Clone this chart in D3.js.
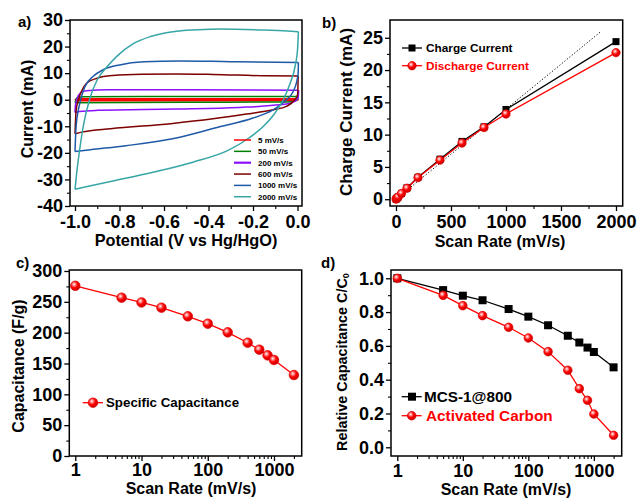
<!DOCTYPE html>
<html><head><meta charset="utf-8">
<script src="https://cdn.jsdelivr.net/npm/d3@7"></script>
<style>
body{margin:0;background:#fff;}
svg text{font-family:"Liberation Sans",Arial,sans-serif;font-weight:bold;}
</style></head><body>
<svg id="c" width="639" height="498"></svg>
<script>
// ---------- DATA ----------
// Panel a: CV loops [potential V, current mA]; anodic (up) and cathodic (down) sweeps
const cvLabels = ["5 mV/s","50 mV/s","200 mV/s","600 mV/s","1000 mV/s","2000 mV/s"];
const cvColors = ["#ff0000","#008000","#8a10ff","#7d0000","#1f5aa8","#38a6a6"];
const cv5Up = [[-1.0,-0.25],[-0.995,0.05],[-0.98,0.2],[-0.5,0.22],[0.002,0.25]];
const cv5Down = [[0.002,0.25],[0.001,0.0],[-0.02,-0.2],[-0.5,-0.25],[-1.0,-0.25]];
const cv50Up = [[-1.0,-1.1],[-0.996,0.0],[-0.986,0.9],[-0.96,1.1],[-0.5,1.2],[0.003,1.25]];
const cv50Down = [[0.003,1.25],[0.002,0.5],[-0.01,-0.5],[-0.05,-0.85],[-0.5,-0.95],[-1.0,-1.1]];
const cv200Up = [[-1.0,-4.8],[-0.998,-2.0],[-0.99,0.5],[-0.975,2.6],[-0.95,3.4],[-0.85,3.75],[-0.5,3.75],[-0.2,3.7],[0.005,3.6]];
const cv200Down = [[0.005,3.6],[0.004,1.5],[0.0,0.2],[-0.03,-1.2],[-0.12,-2.2],[-0.26,-2.9],[-0.55,-3.5],[-0.9,-4.0],[-0.98,-4.4],[-1.0,-4.8]];
const cv600Up = [[-1.0,-12.8],[-0.995,-4.0],[-0.985,0.0],[-0.972,3.0],[-0.948,6.2],[-0.9,8.1],[-0.83,9.1],[-0.7,9.6],[-0.55,9.7],[-0.38,9.5],[-0.15,9.0],[0.003,8.9]];
const cv600Down = [[0.003,8.9],[0.002,5.0],[0.0,1.8],[-0.012,0.0],[-0.05,-2.5],[-0.11,-3.8],[-0.23,-5.4],[-0.38,-7.2],[-0.57,-9.0],[-0.84,-10.9],[-0.97,-12.2],[-1.0,-12.8]];
const cv1000Up = [[-1.0,-19.5],[-0.995,-10.0],[-0.978,-1.2],[-0.955,5.0],[-0.918,8.8],[-0.873,11.3],[-0.8,13.1],[-0.69,14.3],[-0.53,14.6],[-0.3,14.3],[0.004,14.0]];
const cv1000Down = [[0.004,14.0],[0.003,10.0],[-0.003,7.0],[-0.02,3.0],[-0.05,0.0],[-0.11,-3.8],[-0.2,-6.9],[-0.35,-10.2],[-0.55,-14.5],[-0.77,-17.3],[-0.93,-18.8],[-1.0,-19.5]];
const cv2000Up = [[-1.0,-33.7],[-0.993,-28.0],[-0.985,-22.5],[-0.963,-10.0],[-0.935,0.0],[-0.9,7.5],[-0.86,12.0],[-0.81,16.5],[-0.74,21.0],[-0.66,23.8],[-0.56,25.6],[-0.45,26.3],[-0.35,26.6],[-0.15,26.2],[0.004,25.6]];
const cv2000Down = [[0.004,25.6],[0.0,18.7],[-0.011,12.5],[-0.033,6.2],[-0.064,0.0],[-0.101,-5.0],[-0.153,-10.0],[-0.22,-14.5],[-0.31,-19.0],[-0.47,-23.5],[-0.65,-27.3],[-0.83,-30.6],[-1.0,-33.7]];
const cvUp = [cv5Up, cv50Up, cv200Up, cv600Up, cv1000Up, cv2000Up];
const cvDown = [cv5Down, cv50Down, cv200Down, cv600Down, cv1000Down, cv2000Down];

// Panel b
const rateB = [1,5,10,20,50,100,200,400,600,800,1000,2000];
const chargeCurrent = [0.02,0.09,0.18,0.35,0.9,1.75,3.4,6.2,8.95,11.2,13.9,24.4];
const dischargeCurrent = [0.02,0.09,0.17,0.34,0.88,1.7,3.35,6.05,8.7,11.1,13.2,22.7];
const fitLine = [[0,0],[1855,25.85]];

// Panel c
const rateC = [1,5,10,20,50,100,200,400,600,800,1000,2000];
const specCap = [276,256.7,249,240.5,226.5,214.5,200.5,183.7,172.4,163.2,155.7,131.3];

// Panel d
const rateD = [1,5,10,20,50,100,200,400,600,800,1000,2000];
const relMCS = [1.0,0.93,0.897,0.87,0.818,0.773,0.722,0.66,0.62,0.59,0.564,0.473];
const relAC = [1.0,0.899,0.838,0.779,0.71,0.647,0.566,0.456,0.347,0.278,0.197,0.071];

// Ticks
const aXTicks = [-1.0,-0.8,-0.6,-0.4,-0.2,0.0];
const aXMinor = [-0.9,-0.7,-0.5,-0.3,-0.1];
const aYTicks = [-40,-30,-20,-10,0,10,20,30];
const aYMinor = [-35,-25,-15,-5,5,15,25];
const bXTicks = [0,500,1000,1500,2000];
const bXMinor = [250,750,1250,1750];
const bYTicks = [0,5,10,15,20,25];
const bYMinor = [2.5,7.5,12.5,17.5,22.5];
const logTicks = [1,10,100,1000];
const logMinor = [2,3,4,5,6,7,8,9,20,30,40,50,60,70,80,90,200,300,400,500,600,700,800,900,2000];
const cYTicks = [0,50,100,150,200,250,300];
const cYMinor = [25,75,125,175,225,275];
const dYTicks = [0.0,0.2,0.4,0.6,0.8,1.0];
const dYMinor = [0.1,0.3,0.5,0.7,0.9];

// ---------- DRAW ----------
const svg = d3.select("#c");
const defs = svg.append("defs");
const grad = defs.append("radialGradient").attr("id","ball").attr("cx","38%").attr("cy","35%").attr("r","65%");
grad.append("stop").attr("offset","0%").attr("stop-color","#ffffff");
grad.append("stop").attr("offset","25%").attr("stop-color","#ff8080");
grad.append("stop").attr("offset","55%").attr("stop-color","#ff0000");
grad.append("stop").attr("offset","100%").attr("stop-color","#c80000");

function axes(g, x, y, o){
  const [x0,x1] = x.range(), [yb,yt] = y.range();
  const bx = g.append("g").attr("transform",`translate(0,${yb})`)
    .call(d3.axisBottom(x).tickValues(o.xMaj).tickFormat(o.xFmt).tickSize(5).tickPadding(o.xPad));
  bx.select(".domain").remove();
  bx.selectAll("line").attr("stroke","#000").attr("stroke-width",1.3);
  bx.selectAll("text").attr("font-size",o.fs).attr("fill","#000");
  const bm = g.append("g").attr("transform",`translate(0,${yb})`)
    .call(d3.axisBottom(x).tickValues(o.xMin).tickFormat("").tickSize(3));
  bm.select(".domain").remove();
  bm.selectAll("line").attr("stroke","#000").attr("stroke-width",1.1);
  const ly = g.append("g").attr("transform",`translate(${x0},0)`)
    .call(d3.axisLeft(y).tickValues(o.yMaj).tickFormat(o.yFmt).tickSize(5).tickPadding(o.yPad));
  ly.select(".domain").remove();
  ly.selectAll("line").attr("stroke","#000").attr("stroke-width",1.3);
  ly.selectAll("text").attr("font-size",o.fs).attr("fill","#000");
  const lm = g.append("g").attr("transform",`translate(${x0},0)`)
    .call(d3.axisLeft(y).tickValues(o.yMin).tickFormat("").tickSize(3));
  lm.select(".domain").remove();
  lm.selectAll("line").attr("stroke","#000").attr("stroke-width",1.1);
  g.append("rect").attr("x",x0).attr("y",yt).attr("width",x1-x0).attr("height",yb-yt)
    .attr("fill","none").attr("stroke","#000").attr("stroke-width",1.5);
  g.append("text").attr("x",o.xl[0]).attr("y",o.xl[1]).attr("text-anchor","middle")
    .attr("font-size",o.xlfs).text(o.xLabel);
  const t = g.append("text").attr("transform",`translate(${o.yl[0]},${o.yl[1]}) rotate(-90)`)
    .attr("text-anchor","middle").attr("dy","0.35em").attr("font-size",o.ylfs);
  if (o.yLabelParts){ o.yLabelParts(t); } else t.text(o.yLabel);
}

function ball(g, x, y, r){
  g.append("circle").attr("cx",x).attr("cy",y).attr("r",r).attr("fill","url(#ball)").attr("stroke","#e00000").attr("stroke-width",0.7);
}
function square(g, x, y, s){
  g.append("rect").attr("x",x-s/2).attr("y",y-s/2).attr("width",s).attr("height",s).attr("fill","#000");
}

// Panel a
{
  const g = svg.append("g");
  const x = d3.scaleLinear().domain([-1.0225,0.0202]).range([70,302]);
  const y = d3.scaleLinear().domain([-40,30]).range([206,20]);
  const line = d3.line().x(d=>x(d[0])).y(d=>y(d[1])).curve(d3.curveMonotoneX);
  cvUp.forEach((up,i)=>{
    const sw = i===0?2.2:1.5;
    g.append("path").attr("d",line(up)).attr("fill","none").attr("stroke",cvColors[i]).attr("stroke-width",sw);
    g.append("path").attr("d",line(cvDown[i].slice().reverse())).attr("fill","none").attr("stroke",cvColors[i]).attr("stroke-width",sw);
  });
  axes(g,x,y,{xMaj:aXTicks,xMin:aXMinor,yMaj:aYTicks,yMin:aYMinor,xFmt:d=>d.toFixed(1),yFmt:d=>String(d),
    xPad:4,yPad:2,fs:18,xLabel:"Potential (V vs Hg/HgO)",xl:[186,246],xlfs:16.3,yLabel:"Current (mA)",yl:[27,109],ylfs:16});
  cvLabels.forEach((lab,i)=>{
    const ly = 140 + i*11.35;
    g.append("line").attr("x1",234).attr("x2",251).attr("y1",ly).attr("y2",ly).attr("stroke",cvColors[i]).attr("stroke-width",i===2?2.2:1.5);
    g.append("text").attr("x",258).attr("y",ly).attr("dy","0.35em").attr("font-size",8).text(lab);
  });
  svg.append("text").attr("x",18).attr("y",27).attr("font-size",15).text("a)");
}

// Panel b
{
  const g = svg.append("g");
  const x = d3.scaleLinear().domain([-54.5,2061]).range([390,622.7]);
  const y = d3.scaleLinear().domain([-1.05,27.75]).range([206,20]);
  g.append("path").attr("d",d3.line().x(d=>x(d[0])).y(d=>y(d[1]))(fitLine)).attr("stroke","#000")
    .attr("stroke-width",1).attr("stroke-dasharray","1.2,2").attr("fill","none");
  const lc = d3.line().x((d,i)=>x(rateB[i])).y(d=>y(d));
  g.append("path").attr("d",lc(chargeCurrent)).attr("stroke","#000").attr("stroke-width",1.3).attr("fill","none");
  g.append("path").attr("d",lc(dischargeCurrent)).attr("stroke","#ff0000").attr("stroke-width",1.3).attr("fill","none");
  chargeCurrent.forEach((v,i)=>square(g,x(rateB[i]),y(v),7));
  dischargeCurrent.forEach((v,i)=>ball(g,x(rateB[i]),y(v),4.2));
  axes(g,x,y,{xMaj:bXTicks,xMin:bXMinor,yMaj:bYTicks,yMin:bYMinor,xFmt:d=>String(d),yFmt:d=>String(d),
    xPad:4,yPad:2,fs:18,xLabel:"Scan Rate (mV/s)",xl:[500,247],xlfs:16,yLabel:"Charge Current (mA)",yl:[346,112],ylfs:17});
  g.append("line").attr("x1",402).attr("x2",422).attr("y1",48).attr("y2",48).attr("stroke","#000").attr("stroke-width",1.3);
  square(g,412,48,7);
  g.append("text").attr("x",426).attr("y",48).attr("dy","0.35em").attr("font-size",11.8).text("Charge Current");
  g.append("line").attr("x1",402).attr("x2",422).attr("y1",65.7).attr("y2",65.7).attr("stroke","#ff0000").attr("stroke-width",1.3);
  ball(g,412,65.7,4.2);
  g.append("text").attr("x",426).attr("y",65.7).attr("dy","0.35em").attr("font-size",11.8).attr("fill","#ff0000").text("Discharge Current");
  svg.append("text").attr("x",322).attr("y",28).attr("font-size",15).text("b)");
}

// Panel c
{
  const g = svg.append("g");
  const x = d3.scaleLog().domain([0.812,2620]).range([69.3,301.7]);
  const y = d3.scaleLinear().domain([0,301.6]).range([456,270]);
  g.append("path").attr("d",d3.line().x((d,i)=>x(rateC[i])).y(d=>y(d))(specCap)).attr("stroke","#ff0000").attr("stroke-width",1.3).attr("fill","none");
  specCap.forEach((v,i)=>ball(g,x(rateC[i]),y(v),4.8));
  axes(g,x,y,{xMaj:logTicks,xMin:logMinor,yMaj:cYTicks,yMin:cYMinor,xFmt:d=>String(d),yFmt:d=>String(d),
    xPad:2,yPad:2,fs:18,xLabel:"Scan Rate (mV/s)",xl:[191,494],xlfs:16,yLabel:"Capacitance (F/g)",yl:[18.5,366],ylfs:16});
  g.append("line").attr("x1",82.7).attr("x2",103).attr("y1",402.7).attr("y2",402.7).attr("stroke","#ff0000").attr("stroke-width",1.3);
  ball(g,93,402.7,4.8);
  g.append("text").attr("x",106).attr("y",402.7).attr("dy","0.35em").attr("font-size",13.3).text("Specific Capacitance");
  svg.append("text").attr("x",16).attr("y",268).attr("font-size",15).text("c)");
}

// Panel d
{
  const g = svg.append("g");
  const x = d3.scaleLog().domain([0.801,2660]).range([391,621.7]);
  const y = d3.scaleLinear().domain([-0.0515,1.049]).range([456,270]);
  const l = d3.line().x((d,i)=>x(rateD[i])).y(d=>y(d));
  g.append("path").attr("d",l(relMCS)).attr("stroke","#000").attr("stroke-width",1.3).attr("fill","none");
  g.append("path").attr("d",l(relAC)).attr("stroke","#ff0000").attr("stroke-width",1.3).attr("fill","none");
  relMCS.forEach((v,i)=>square(g,x(rateD[i]),y(v),8));
  relAC.forEach((v,i)=>ball(g,x(rateD[i]),y(v),4.3));
  axes(g,x,y,{xMaj:logTicks,xMin:logMinor,yMaj:dYTicks,yMin:dYMinor,xFmt:d=>String(d),yFmt:d=>d.toFixed(1),
    xPad:3,yPad:2,fs:18,xLabel:"Scan Rate (mV/s)",xl:[506,495],xlfs:16,yl:[342,362],ylfs:14.4,
    yLabelParts:t=>{t.append("tspan").text("Relative Capacitance C/C");t.append("tspan").attr("font-size",9).attr("dy","0.25em").text("0");}});
  g.append("line").attr("x1",401.7).attr("x2",421.7).attr("y1",396.7).attr("y2",396.7).attr("stroke","#000").attr("stroke-width",1.3);
  square(g,412,396.7,8);
  g.append("text").attr("x",424).attr("y",396.7).attr("dy","0.35em").attr("font-size",15.3).text("MCS-1@800");
  g.append("line").attr("x1",401.7).attr("x2",421.7).attr("y1",415.7).attr("y2",415.7).attr("stroke","#ff0000").attr("stroke-width",1.3);
  ball(g,411.7,415.7,4.3);
  g.append("text").attr("x",426).attr("y",415.7).attr("dy","0.35em").attr("font-size",15.3).attr("fill","#ff0000").text("Activated Carbon");
  svg.append("text").attr("x",321).attr("y",268).attr("font-size",15).text("d)");
}
</script>
</body></html>
